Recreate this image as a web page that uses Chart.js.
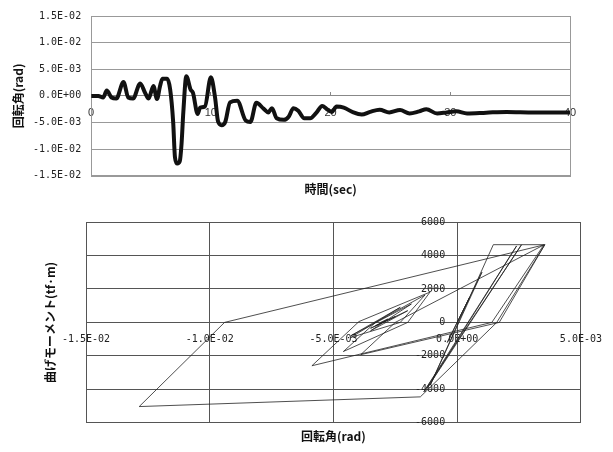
<!DOCTYPE html>
<html>
<head>
<meta charset="utf-8">
<script src="https://cdn.jsdelivr.net/npm/chart.js@4"></script>
<style>
  html, body { margin: 0; padding: 0; background: #fff; }
  .box { position: absolute; left: 0; width: 613px; }
</style>
</head>
<body>
<div class="box" style="top:0;height:200px"><canvas id="history" width="613" height="200"></canvas></div>
<div class="box" style="top:200px;height:252px"><canvas id="loop" width="613" height="252"></canvas></div>
<script>
// time history: rotation angle (rad) vs time (sec)
const timeSec = [0.0, 0.6, 1.0, 1.3, 1.7, 2.1, 2.7, 3.1, 3.5, 4.1, 4.5, 4.8, 5.2, 5.5, 5.75, 5.95, 6.35, 6.6, 6.85, 7.0,
  7.2, 7.4, 7.55, 7.7, 7.95, 8.3, 8.5, 8.9, 9.1, 9.5, 10.0, 10.35, 10.6, 10.9, 11.2, 11.6, 12.2, 12.9, 13.3, 13.8, 14.4, 14.8,
  15.1, 15.5, 16.1, 16.5, 16.9, 17.3, 17.8, 18.3, 18.8, 19.3, 19.7, 20.1, 20.5, 21.1, 21.9, 22.6, 23.3, 24.1, 24.9, 25.8,
  26.6, 27.4, 28.0, 28.9, 29.7, 30.5, 31.4, 33.0, 34.7, 37.0, 40.0];
const rotationRad = [0.0, 0.0, -0.3e-3, 1.0e-3, -0.3e-3, -0.5e-3, 2.6e-3, -0.3e-3, -0.5e-3, 2.35e-3, 0.6e-3, -0.5e-3, 1.85e-3, -0.6e-3, 1.8e-3, 3.2e-3, 3.2e-3, 1.2e-3, -4.9e-3, -11.5e-3,
  -12.7e-3, -12.3e-3, -9.0e-3, -3.0e-3, 3.7e-3, 1.2e-3, 0.6e-3, -3.4e-3, -2.2e-3, -2.0e-3, 3.5e-3, -0.3e-3, -4.8e-3, -5.5e-3, -4.9e-3, -1.2e-3, -0.9e-3, -4.6e-3, -4.9e-3, -1.3e-3, -2.4e-3, -3.1e-3,
  -2.3e-3, -4.2e-3, -4.5e-3, -3.9e-3, -2.3e-3, -2.8e-3, -4.2e-3, -4.2e-3, -3.2e-3, -1.9e-3, -2.5e-3, -3.0e-3, -2.0e-3, -2.2e-3, -3.1e-3, -3.5e-3, -3.0e-3, -2.6e-3, -3.1e-3, -2.65e-3,
  -3.3e-3, -2.9e-3, -2.5e-3, -3.3e-3, -3.1e-3, -2.9e-3, -3.3e-3, -3.15e-3, -3.0e-3, -3.1e-3, -3.1e-3];

// hysteresis loop: rotation angle (rad) vs bending moment (tf·m)
const loopRotation = [0, 0.5e-3, -0.4e-3, 1.0e-3, -1.09e-3, 1.46e-3, 2.6e-3, -1.22e-3, 2.4e-3, -1.35e-3, 2.6e-3, 3.54e-3,
  1.6e-3, -1.49e-3, -12.85e-3, -9.4e-3, 3.54e-3, 1.7e-3, -3.9e-3, -2.5e-3, 3.5e-3, 1.4e-3, -5.87e-3, -3.97e-3,
  -1.1e-3, -2.0e-3, -4.6e-3, -3.3e-3, -1.3e-3, -2.3e-3, -4.3e-3, -2.3e-3, -4.3e-3, -1.85e-3, -3.5e-3, -2.0e-3,
  -3.5e-3, -2.5e-3, -3.3e-3, -2.8e-3, -3.1e-3];
const loopMoment = [0, 1500, -1200, 3000, -3750, 4645, 4645, -3950, 4570, -4150, 4645, 4645,
  0, -4450, -5030, 0, 4645, 0, -1930, 0, 4630, 0, -2590, 50,
  1810, 0, -1740, 0, 1640, 0, -900, 900, -800, 1100, -500, 700,
  -350, 350, -200, 200, 0];

const historyTicks = [-0.015, -0.01, -0.005, 0, 0.005, 0.01, 0.015];
const timeTicks = [0, 10, 20, 30, 40];
const loopRotationTicks = [-0.015, -0.01, -0.005, 0, 0.005];
const momentTicks = [-6000, -4000, -2000, 0, 2000, 4000, 6000];

function fmtE(v) {
  const [m, e] = Number(v).toExponential(1).split('e');
  const sign = e[0] === '-' ? '-' : '+';
  return m + 'E' + sign + String(Math.abs(parseInt(e, 10))).padStart(2, '0');
}

const tickFont = { family: 'DejaVu Sans Mono', size: 10 };
const titleFont = { family: 'Noto Sans CJK JP', size: 12, weight: 'bold', lineHeight: 1.2 };

const frame = {
  id: 'frame',
  beforeDatasetsDraw(chart) {
    const { ctx, chartArea: a } = chart;
    ctx.save();
    ctx.strokeStyle = '#999';
    ctx.lineWidth = 1;
    ctx.strokeRect(Math.round(a.left) + 0.5, Math.round(a.top) + 0.5, Math.round(a.right - a.left), Math.round(a.bottom - a.top));
    ctx.restore();
  }
};

new Chart(document.getElementById('history'), {
  type: 'line',
  data: {
    datasets: [{
      data: timeSec.map((t, i) => ({ x: t, y: rotationRad[i] })),
      borderColor: '#111',
      borderWidth: 4,
      pointRadius: 0,
      cubicInterpolationMode: 'monotone',
      fill: false
    }]
  },
  options: {
    responsive: false,
    animation: false,
    layout: { padding: { top: 14, right: 43, bottom: 1, left: 0 } },
    plugins: {
      legend: { display: false },
      tooltip: { enabled: false },
      title: { display: true, text: '回転角(rad)', position: 'left', fullSize: false, color: '#111', font: titleFont, padding: { top: 10.8, bottom: -2.2 } },
      subtitle: { display: true, text: '時間(sec)', position: 'bottom', fullSize: false, color: '#111', font: titleFont, padding: { top: 6.8, bottom: 2 } }
    },
    scales: {
      x: {
        type: 'linear',
        position: { y: 0 },
        min: 0, max: 40,
        afterBuildTicks: s => { s.ticks = timeTicks.map(v => ({ value: v })); },
        grid: { drawOnChartArea: false, drawTicks: true, tickLength: -4, color: '#888' },
        border: { color: '#888' },
        ticks: { font: { family: 'Liberation Sans', size: 11 }, color: '#333', padding: 14, maxRotation: 0, autoSkip: false }
      },
      y: {
        type: 'linear',
        position: 'left',
        min: -0.015, max: 0.015,
        afterBuildTicks: s => { s.ticks = historyTicks.map(v => ({ value: v })); },
        grid: { color: '#999', drawTicks: false },
        border: { color: '#999' },
        ticks: { font: tickFont, color: '#222', padding: 10, callback: v => fmtE(v) }
      }
    }
  },
  plugins: [frame]
});

new Chart(document.getElementById('loop'), {
  type: 'scatter',
  data: {
    datasets: [{
      data: loopRotation.map((r, i) => ({ x: r, y: loopMoment[i] })),
      showLine: true,
      borderColor: '#222',
      borderWidth: 0.8,
      pointRadius: 0,
      tension: 0
    }]
  },
  options: {
    responsive: false,
    animation: false,
    layout: { padding: { top: 22, right: 30, bottom: 6, left: 36 } },
    plugins: {
      legend: { display: false },
      tooltip: { enabled: false },
      title: { display: true, text: '曲げモーメント(tf·m)', position: 'left', fullSize: false, color: '#111', font: titleFont, padding: { top: 7, bottom: 28.6 } },
      subtitle: { display: true, text: '回転角(rad)', position: 'bottom', fullSize: false, color: '#111', font: titleFont, padding: { top: 6.8, bottom: 2 } }
    },
    scales: {
      x: {
        type: 'linear',
        position: { y: 0 },
        min: -0.015, max: 0.005,
        afterBuildTicks: s => { s.ticks = loopRotationTicks.map(v => ({ value: v })); },
        grid: { color: '#555', drawTicks: false },
        border: { color: '#555' },
        ticks: { font: tickFont, color: '#222', padding: 11, maxRotation: 0, autoSkip: false, callback: v => fmtE(v) }
      },
      y: {
        type: 'linear',
        position: { x: 0 },
        min: -6000, max: 6000,
        afterBuildTicks: s => { s.ticks = momentTicks.map(v => ({ value: v })); },
        grid: { color: '#555', drawTicks: false },
        border: { color: '#555' },
        ticks: { font: tickFont, color: '#222', callback: v => v + '  ' }
      }
    }
  }
});
</script>
</body>
</html>
